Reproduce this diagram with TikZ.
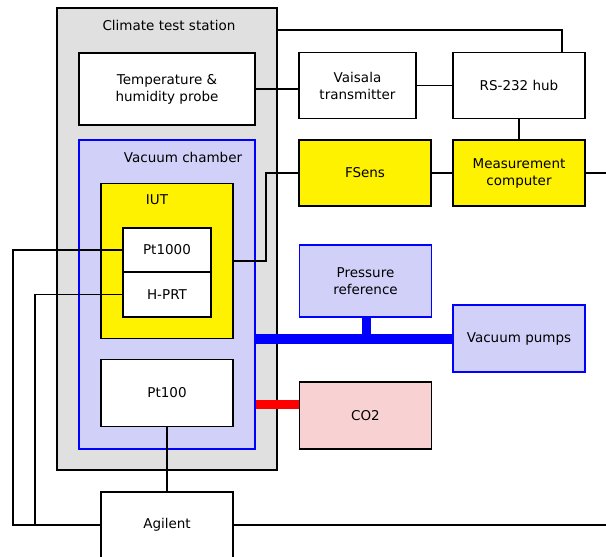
\documentclass[tikz,border=0pt]{standalone}
\usepackage{fontspec}
\setmainfont{DejaVu Sans}
\usetikzlibrary{calc}

\definecolor{stationgray}{RGB}{224,224,224}
\definecolor{chamberblue}{RGB}{208,208,248}
\definecolor{co2pink}{RGB}{248,210,210}

\begin{document}
\begin{tikzpicture}[
    x=1pt, y=-1pt,
    font=\fontsize{13.5}{17}\selectfont,
    box/.style={draw, line width=1.8pt, align=center, inner sep=0pt},
    bluebox/.style={draw=blue, line width=1.5pt, fill=chamberblue, align=center, inner sep=0pt},
    wire/.style={line width=1.5pt},
    vacline/.style={blue, line width=10pt},
    gasline/.style={red, line width=9pt}
    ]

    \clip (0,0) rectangle (606,557);

    % climate test station with the vacuum chamber inside
    \node[box, fill=stationgray, minimum width=220pt, minimum height=462pt] (station) at (167,239) {};
    \node (stationlabel) at (169,25) {Climate test station};
    \node[box, fill=white, minimum width=176pt, minimum height=72pt] (probe) at (167,89)
    {Temperature \&\\humidity probe};
    \node[bluebox, minimum width=176pt, minimum height=309pt] (chamber) at (167,294.5) {};
    \node (chamberlabel) at (183,157) {Vacuum chamber};
    \node[box, fill=yellow, minimum width=132pt, minimum height=155pt] (iut) at (167,261) {};
    \node (iutlabel) at (157,200) {IUT};
    \node[box, fill=white, minimum width=88pt, minimum height=44pt] (pt1000) at (167,250) {Pt1000};
    \node[box, fill=white, minimum width=88pt, minimum height=45pt] (hprt) at (167,294.5) {H-PRT};
    \node[box, fill=white, minimum width=132pt, minimum height=67pt] (pt100) at (167,393) {Pt100};
    \node[box, fill=white, minimum width=132pt, minimum height=66pt] (agilent) at (167,525) {Agilent};

    % pipes
    \draw[vacline] (chamber.east |- 0,338.5) -- (453,338.5) coordinate (pumpin);
    \draw[blue, line width=9pt] (366,317) -- (366,338.5);
    \draw[gasline] (chamber.east |- 0,404) -- (299,404);

    % instruments outside
    \node[box, fill=white, minimum width=117pt, minimum height=66pt] (vaisala) at (357.5,85.5)
    {Vaisala\\transmitter};
    \node[box, fill=white, minimum width=132pt, minimum height=66pt] (hub) at (519,85.5) {RS-232 hub};
    \node[box, fill=yellow, minimum width=132pt, minimum height=66pt] (fsens) at (365,173) {FSens};
    \node[box, fill=yellow, minimum width=132pt, minimum height=66pt] (mc) at (519,173)
    {Measurement\\computer};
    \node[bluebox, minimum width=132pt, minimum height=72pt] (pressure) at (365.5,281)
    {Pressure\\reference};
    \node[bluebox, minimum width=132pt, minimum height=67pt] (pumps) at (519,338.5) {Vacuum pumps};
    \node[box, fill=co2pink, minimum width=132pt, minimum height=67pt] (co2) at (365.5,415.5) {CO2};

    % wiring
    \draw[wire] ([yshift=-23pt]station.north east) -| ([xshift=43pt]hub.north);
    \draw[wire] (probe.east) -- (vaisala.west |- probe.east);
    \draw[wire] (vaisala) -- (hub);
    \draw[wire] (hub) -- (mc);
    \draw[wire] (fsens) -- (mc);
    \coordinate (mcout) at (606,173);
    \draw[wire] (mc.east) -- (mcout);
    \draw[wire] (iut.east) -- ++(32,0) |- (fsens.west);
    \coordinate (ptbus) at (13,525);
    \coordinate (hprtbus) at (35,525);
    \draw[wire] (pt1000.west) -| (ptbus) -- (agilent.west);
    \draw[wire] (hprt.west) -| (hprtbus);
    \draw[wire] (pt100) -- (agilent);
    \coordinate (agout) at (606,525);
    \draw[wire] (agilent.east) -- (agout);

\end{tikzpicture}
\end{document}
